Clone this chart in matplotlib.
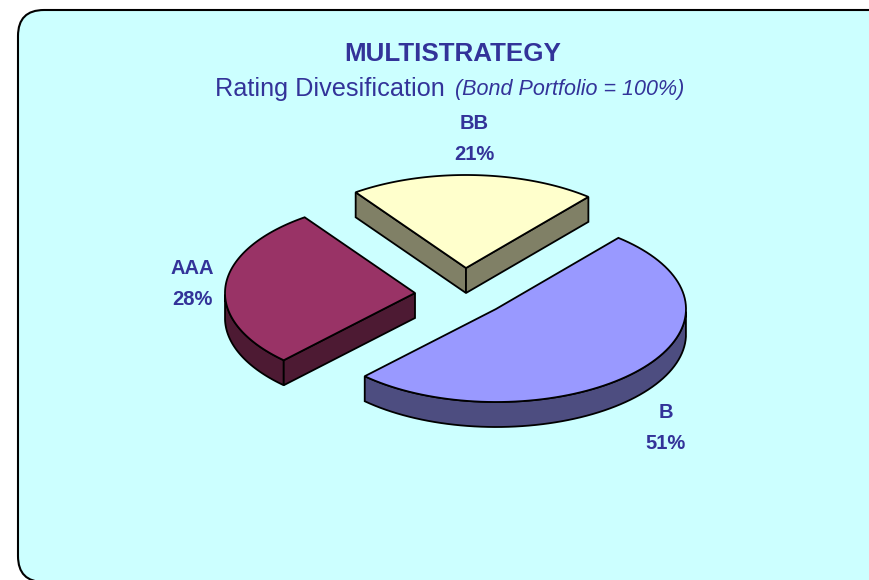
import numpy as np
import matplotlib
matplotlib.use('Agg')
import matplotlib.pyplot as plt
from matplotlib.patches import FancyBboxPatch, Polygon

labels = ['BB', 'B', 'AAA']
shares = [21, 51, 28]
top_colors = ['#FFFFCC', '#9999FF', '#993366']
wall_colors = ['#808066', '#4D4D80', '#4D1A33']

# layout, in image pixels
apexes = [(466, 268), (496, 309), (415, 293)]
label_pos = [(474, 139), (666, 428), (192, 284)]
start_angle = -35.5  # degrees, clockwise from the back of the pie
rx, ry = 190, 93
depth = 25
navy = '#333399'

plt.rcParams['font.family'] = ['Liberation Sans', 'DejaVu Sans']

fig = plt.figure(figsize=(8.69, 5.8), dpi=100)
ax = fig.add_axes([0, 0, 1, 1])
ax.set_xlim(0, 869)
ax.set_ylim(580, 0)
ax.axis('off')

# frame runs off the right and bottom of the picture
ax.add_patch(FancyBboxPatch((18, 10), 880, 572, boxstyle='round,pad=0,rounding_size=26',
                            fc='#CCFFFF', ec='black', lw=1.5, zorder=1))


def draw_wall(top_pts, color):
    # wall below a run of top-face points
    bottom = top_pts[::-1] + [0, depth]
    ax.add_patch(Polygon(np.vstack([top_pts, bottom]), closed=True, fc=color,
                         ec='black', lw=1.3, zorder=2))


angle = start_angle
for i in range(len(shares)):
    sweep = shares[i] * 3.6
    t = np.radians(np.linspace(angle, angle + sweep, 90))
    angle += sweep
    apex = np.array(apexes[i], dtype=float)
    arc = np.column_stack([apex[0] + rx * np.sin(t), apex[1] - ry * np.cos(t)])

    # arc wall: only the part on the front of the pie shows
    front = np.cos(t) < 0
    if front.any():
        draw_wall(arc[front], wall_colors[i])
    # straight walls that face the viewer
    if np.sin(t[0]) < 0:
        draw_wall(np.array([arc[0], apex]), wall_colors[i])
    if np.sin(t[-1]) > 0:
        draw_wall(np.array([apex, arc[-1]]), wall_colors[i])

    ax.add_patch(Polygon(np.vstack([apex, arc]), closed=True, fc=top_colors[i],
                         ec='black', lw=1.3, zorder=3))

    ax.text(label_pos[i][0], label_pos[i][1], f'{labels[i]}\n{shares[i]}%', color=navy,
            fontsize=14.5, fontweight='bold', ha='center', va='center', linespacing=1.75, zorder=4)

ax.text(453, 54, 'MULTISTRATEGY', color=navy, fontsize=18.7, fontweight='bold',
        ha='center', va='center', zorder=4)
ax.text(215, 89, 'Rating Divesification', color=navy, fontsize=18.2,
        ha='left', va='center', zorder=4)
ax.text(455, 90, '(Bond Portfolio = 100%)', color=navy, fontsize=15.5, style='italic',
        ha='left', va='center', zorder=4)

fig.savefig('out.png', dpi=100)
